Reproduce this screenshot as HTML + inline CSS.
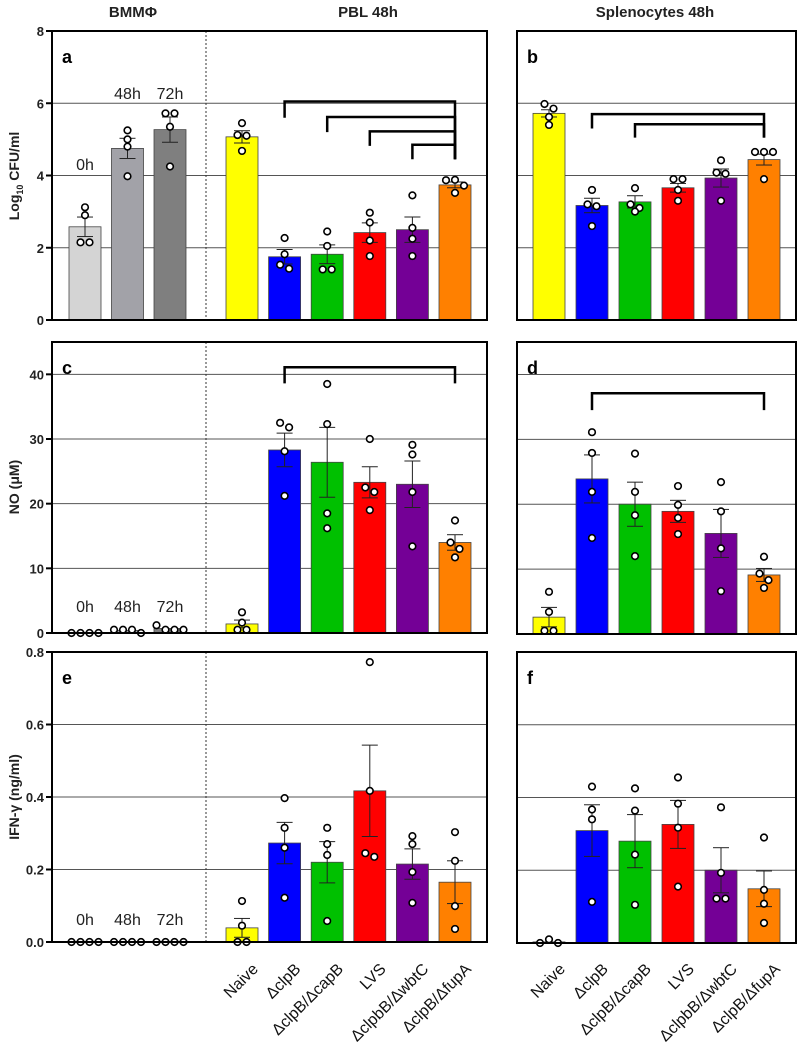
<!DOCTYPE html>
<html><head><meta charset="utf-8"><style>
html,body{margin:0;padding:0;background:#fff;}
svg{display:block;font-family:"Liberation Sans",sans-serif;}
</style></head><body>
<svg id="fig" width="798" height="1054" viewBox="0 0 798 1054"></svg>
<script>
// ---------- data ----------
const groupsLeft = ["0h","48h","72h","Naive","ΔclpB","ΔclpB/ΔcapB","LVS","ΔclpbB/ΔwbtC","ΔclpB/ΔfupA"];
const groupsRight = ["Naive","ΔclpB","ΔclpB/ΔcapB","LVS","ΔclpbB/ΔwbtC","ΔclpB/ΔfupA"];
const colorsLeft = ["#d4d4d4","#a2a2a8","#7f7f7f","#ffff00","#0000ff","#00c000","#ff0000","#740096","#ff8000"];
const colorsRight = ["#ffff00","#0000ff","#00c000","#ff0000","#740096","#ff8000"];

const aMeans = [2.58,4.75,5.27,5.07,1.75,1.82,2.42,2.5,3.74];
const aErr = [0.27,0.28,0.35,0.17,0.2,0.26,0.27,0.35,0.08];
const aPts = [[3.12,2.9,2.15,2.15],[5.25,5.0,4.8,3.98],[5.72,5.72,5.35,4.25],[5.45,5.12,5.1,4.68],[2.27,1.82,1.53,1.42],[2.45,2.05,1.4,1.4],[2.97,2.7,2.2,1.77],[3.45,2.55,2.25,1.77],[3.87,3.88,3.72,3.52]];
const bMeans = [5.72,3.17,3.27,3.66,3.93,4.44];
const bErr = [0.1,0.2,0.17,0.12,0.25,0.15];
const bPts = [[5.98,5.85,5.62,5.4],[3.6,3.2,3.15,2.6],[3.65,3.2,3.1,3.0],[3.9,3.9,3.6,3.3],[4.42,4.08,4.05,3.3],[4.65,4.65,4.65,3.9]];
const cMeans = [0,0.4,0.7,1.4,28.3,26.4,23.3,23.0,14.0];
const cErr = [0,0,0,0.6,2.6,5.4,2.4,3.6,1.2];
const cPts = [[0,0,0,0],[0.5,0.5,0.5,0],[1.2,0.5,0.5,0.5],[3.2,1.6,0.5,0.5],[32.5,31.8,28.1,21.2],[38.5,32.3,18.5,16.2],[30,22.5,21.8,19],[29.1,27.6,21.8,13.4],[17.4,14,13,11.7]];
const dMeans = [2.6,23.9,20,18.9,15.5,9.1];
const dErr = [1.5,3.7,3.4,1.7,3.7,1.0];
const dPts = [[6.5,3.4,0.5,0.5],[31.1,27.9,21.9,14.8],[27.8,21.9,18.3,12],[22.8,19.9,17.9,15.4],[23.4,18.9,13.2,6.6],[11.9,9.3,8.3,7.1]];
const eMeans = [0,0,0,0.039,0.273,0.22,0.417,0.215,0.165];
const eErr = [0,0,0,0.026,0.057,0.057,0.126,0.042,0.059];
const ePts = [[0,0,0,0],[0,0,0,0],[0,0,0,0],[0.113,0.045,0,0],[0.397,0.315,0.26,0.122],[0.315,0.27,0.24,0.058],[0.772,0.417,0.245,0.235],[0.292,0.27,0.193,0.108],[0.303,0.224,0.099,0.036]];
const fMeans = [0.003,0.309,0.28,0.326,0.2,0.149];
const fErr = [0,0.071,0.073,0.066,0.062,0.049];
const fPts = [[0,0.01,0],[0.43,0.367,0.34,0.113],[0.425,0.364,0.243,0.105],[0.455,0.383,0.317,0.155],[0.373,0.193,0.122,0.122],[0.29,0.146,0.108,0.055]];

const aTicks = [0,2,4,6,8];
const cTicks = [0,10,20,30,40];
const eTicks = [0,0.2,0.4,0.6,0.8];
const eTickLabels = ["0.0","0.2","0.4","0.6","0.8"];
// brackets: [fromGroup, toGroup, topValue, legValue]
const aBrackets = [[4,8,6.05,5.6],[5,8,5.62,5.2],[6,8,5.22,4.82],[7,8,4.85,4.45]];
const bBrackets = [[1,5,5.7,5.3],[2,5,5.42,5.05]];
const cBrackets = [[4,8,41.1,38.6]];
const dBrackets = [[1,5,37.1,34.5]];

// ---------- helpers ----------
const svg = document.getElementById('fig');
const NS = "http://www.w3.org/2000/svg";
function mk(tag, attrs, parent){
  const e = document.createElementNS(NS, tag);
  for (const k in attrs) e.setAttribute(k, attrs[k]);
  (parent||svg).appendChild(e);
  return e;
}
function leftX(i){ return i<3 ? 85+42.5*i : 242+42.6*(i-3); }
function rightX(i){ return 549+43*i; }

function panel(opt){
  const g = mk('g', {});
  
  
  const y = v => opt.y0 - (v/opt.max)*(opt.y0-opt.yTop);
  opt.grid.forEach(v => {
    const l = mk('line', {x1:opt.x0, x2:opt.x1, y1:y(v), y2:y(v), stroke:'#555', 'stroke-width':1}, g);
    
    
  });
  if (opt.divider){
    const d = mk('line', {x1:206, x2:206, y1:opt.yTop, y2:opt.y0, stroke:'#333', 'stroke-width':1, 'stroke-dasharray':'2,2'}, g);
    
    
  }
  const bw = 32;
  opt.means.forEach((m,i) => {
    const cx = opt.xf(i);
    if (m > 0){
      const r = mk('rect', {x:cx-bw/2, y:y(m), width:bw, height:opt.y0-y(m), fill:opt.colors[i], stroke:'#444', 'stroke-width':0.8}, g);
      
      
    }
    const er = opt.err[i];
    if (er > 0){
      const eg = mk('g', {stroke:'#222', 'stroke-width':1}, g);
      
      
      mk('line', {x1:cx, x2:cx, y1:y(m+er), y2:y(Math.max(0,m-er))}, eg);
      mk('line', {x1:cx-8, x2:cx+8, y1:y(m+er), y2:y(m+er)}, eg);
      mk('line', {x1:cx-8, x2:cx+8, y1:y(Math.max(0,m-er)), y2:y(Math.max(0,m-er))}, eg);
    }
    const pts = opt.pts[i];
    const ys = pts.map(y);
    const used = new Array(pts.length).fill(false);
    pts.forEach((p,j) => {
      if (used[j]) return;
      const cluster = [j];
      used[j] = true;
      for (let k=j+1;k<pts.length;k++){
        if (!used[k] && Math.abs(ys[k]-ys[j]) < 7){ cluster.push(k); used[k]=true; }
      }
      cluster.forEach((k,n) => {
        const off = (n-(cluster.length-1)/2)*9;
        const c = mk('circle', {cx:cx+off, cy:ys[k], r:3.3, fill:'#fff', stroke:'#000', 'stroke-width':1.6}, g);
        
        
      });
    });
  });
  (opt.brackets||[]).forEach(b => {
    const xa = opt.xf(b[0]), xb = opt.xf(b[1]);
    const p = mk('path', {d:`M${xa} ${y(b[3])} V${y(b[2])} H${xb} V${y(opt.rightLeg)}`, fill:'none', stroke:'#000', 'stroke-width':2.5}, g);
    
    
  });
  const f = mk('rect', {x:opt.x0, y:opt.yTop, width:opt.x1-opt.x0, height:opt.y0-opt.yTop, fill:'none', stroke:'#000', 'stroke-width':2}, g);
  
  
  const t = mk('text', {x:opt.x0+10, y:opt.yTop+32, 'font-size':18, 'font-weight':'bold'}, g);
  t.textContent = opt.letter;
  
  
  if (opt.ticks){
    opt.ticks.forEach((v,i) => {
      mk('line', {x1:opt.x0-6, x2:opt.x0, y1:y(v), y2:y(v), stroke:'#000', 'stroke-width':2}, g);
      const tl = mk('text', {x:opt.x0-8, y:y(v)+5, 'text-anchor':'end', 'font-size':13, 'font-weight':'bold', fill:'#222'}, g);
      tl.textContent = opt.tickLabels ? opt.tickLabels[i] : String(v);
      
      
    });
  }
  return y;
}

panel({name:'panel-a-cfu-pbl', key:'a', letter:'a', x0:52, x1:487, y0:320, yTop:31, max:8, grid:[2,4,6], divider:true, xf:leftX, means:aMeans, err:aErr, pts:aPts, colors:colorsLeft, brackets:aBrackets, rightLeg:4.45, ticks:aTicks});
panel({name:'panel-b-cfu-splenocytes', key:'b', letter:'b', x0:517, x1:796, y0:320, yTop:31, max:8, grid:[2,4,6], xf:rightX, means:bMeans, err:bErr, pts:bPts, colors:colorsRight, brackets:bBrackets, rightLeg:5.05});
panel({name:'panel-c-no-pbl', key:'c', letter:'c', x0:52, x1:487, y0:633, yTop:342, max:45, grid:[10,20,30,40], divider:true, xf:leftX, means:cMeans, err:cErr, pts:cPts, colors:colorsLeft, brackets:cBrackets, rightLeg:38.6, ticks:cTicks});
panel({name:'panel-d-no-splenocytes', key:'d', letter:'d', x0:517, x1:796, y0:634, yTop:342, max:45, grid:[10,20,30,40], xf:rightX, means:dMeans, err:dErr, pts:dPts, colors:colorsRight, brackets:dBrackets, rightLeg:34.5});
panel({name:'panel-e-ifn-pbl', key:'e', letter:'e', x0:52, x1:487, y0:942, yTop:652, max:0.8, grid:[0.2,0.4,0.6], divider:true, xf:leftX, means:eMeans, err:eErr, pts:ePts, colors:colorsLeft, ticks:eTicks, tickLabels:eTickLabels});
panel({name:'panel-f-ifn-splenocytes', key:'f', letter:'f', x0:517, x1:796, y0:943, yTop:652, max:0.8, grid:[0.2,0.4,0.6], xf:rightX, means:fMeans, err:fErr, pts:fPts, colors:colorsRight});

function timeLabels(ys, name){
  ys.forEach((yy,i) => {
    const t = mk('text', {x:leftX(i), y:yy, 'text-anchor':'middle', 'font-size':16, fill:'#222'});
    t.textContent = groupsLeft[i];
    
    
  });
}
timeLabels([170,99,99], 'time-label-a');
timeLabels([612,612,612], 'time-label-c');
timeLabels([925,925,925], 'time-label-e');

[["BMMΦ",133],["PBL 48h",368],["Splenocytes 48h",655]].forEach(([s,x]) => {
  const t = mk('text', {x:x, y:17, 'text-anchor':'middle', 'font-size':15, 'font-weight':'bold', fill:'#222'});
  t.textContent = s;
  
  
});

function yTitle(html, cy, name){
  const t = mk('text', {x:0, y:0, transform:`translate(19 ${cy}) rotate(-90)`, 'text-anchor':'middle', 'font-size':14, 'font-weight':'bold', fill:'#222'});
  t.innerHTML = html;
  
  
}
yTitle('Log<tspan font-size="9" dy="4">10</tspan><tspan dy="-4"> CFU/ml</tspan>', 176, 'y-axis-title-cfu');
yTitle('NO (μM)', 487, 'y-axis-title-no');
yTitle('IFN-γ (ng/ml)', 797, 'y-axis-title-ifn');

function xLabels(xf, names, start){
  names.forEach((s,i) => {
    const x = xf(i+start)+17, yy = 970;
    const t = mk('text', {x:x, y:yy, transform:`rotate(-45 ${x} ${yy})`, 'text-anchor':'end', 'font-size':16, fill:'#111'});
    t.textContent = s;
    
    
  });
}
xLabels(leftX, groupsLeft.slice(3), 3);
xLabels(rightX, groupsRight, 0);
</script>
</body></html>
